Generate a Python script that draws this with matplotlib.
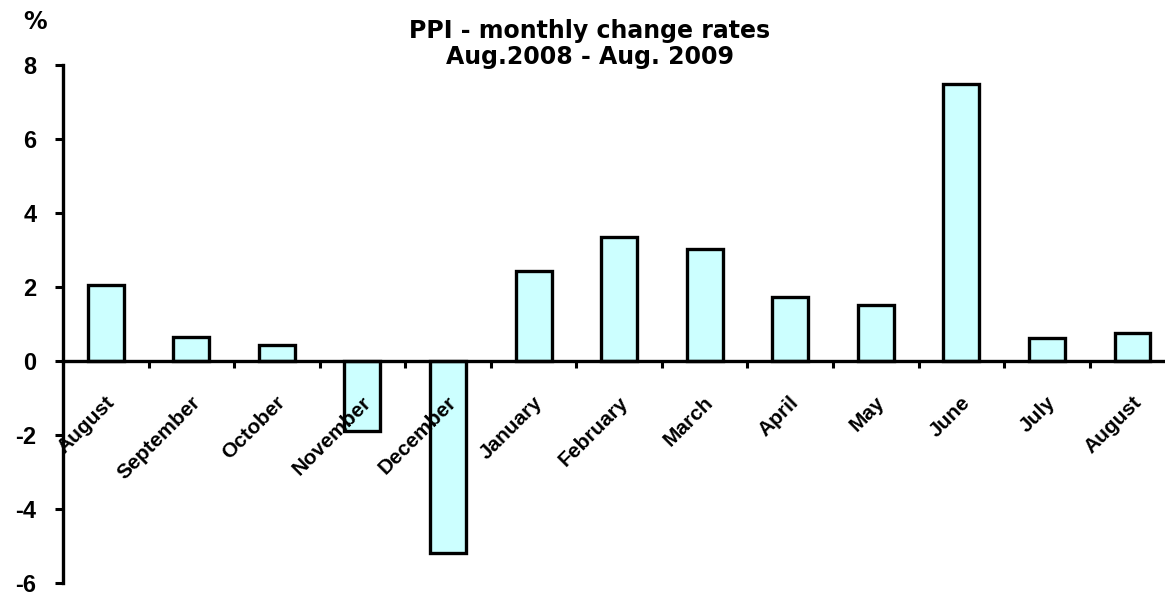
import matplotlib
matplotlib.use("Agg")
import matplotlib.pyplot as plt
import matplotlib.transforms as mtransforms
import numpy as np

months = ["August", "September", "October", "November", "December", "January",
          "February", "March", "April", "May", "June", "July", "August"]
values = [2.05, 0.65, 0.43, -1.9, -5.2, 2.42, 3.34, 3.03, 1.73, 1.52, 7.5, 0.63, 0.75]
yticks = [-6, -4, -2, 0, 2, 4, 6, 8]
title_lines = ["PPI - monthly change rates", "Aug.2008 - Aug. 2009"]
y_unit = "%"

plt.rcParams["font.family"] = ["Liberation Sans", "DejaVu Sans"]
plt.rcParams["font.weight"] = "bold"

W, H = 1165, 592
fig = plt.figure(figsize=(W / 100, H / 100), dpi=100)
ax = fig.add_axes([63 / W, 1 - 583 / H, 1 - 63 / W, (583 - 65) / H])

x = np.arange(len(months))
ax.bar(x, values, width=0.42, color="#CCFFFF", edgecolor="black", linewidth=2.4, zorder=1)

ax.set_xlim(-0.5, 12.38)
ax.set_ylim(-6, 8)

for s in ["top", "right"]:
    ax.spines[s].set_visible(False)
ax.spines["bottom"].set_position(("data", 0))
ax.spines["bottom"].set_linewidth(2.4)
ax.spines["left"].set_linewidth(2.4)

ax.set_yticks(yticks)
ax.set_yticklabels([str(v) for v in yticks], fontsize=17, fontweight="bold")
ax.tick_params(axis="y", direction="out", length=6, width=2.2, pad=13)

ax.set_xticks(x)
ax.set_xticks(np.arange(len(months) - 1) + 0.5, minor=True)
ax.tick_params(axis="x", which="major", length=0, pad=23)
ax.tick_params(axis="x", which="minor", direction="out", length=5, width=2.2)
labels = ax.set_xticklabels(months, rotation=45, ha="right", va="top",
                            rotation_mode="anchor", fontsize=15, fontweight="bold")
offset = mtransforms.ScaledTranslation(-1 / 100, 0, fig.dpi_scale_trans)
for lab in labels:
    lab.set_transform(lab.get_transform() + offset)

fig.text(590 / W, 1 - 31 / H, title_lines[0], ha="center", va="center",
         fontsize=17, fontweight="bold", family="DejaVu Sans")
fig.text(590 / W, 1 - 57 / H, title_lines[1], ha="center", va="center",
         fontsize=17, fontweight="bold", family="DejaVu Sans")
fig.text(35 / W, 1 - 22 / H, y_unit, ha="center", va="center",
         fontsize=17, fontweight="bold", family="DejaVu Sans")

fig.savefig("out.png", dpi=100)
